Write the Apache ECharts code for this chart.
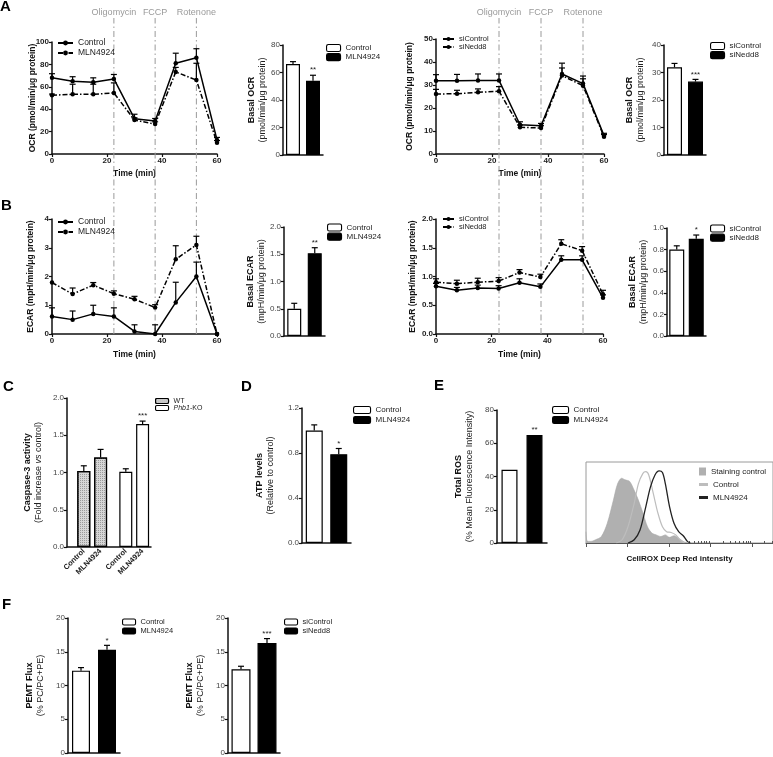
<!DOCTYPE html>
<html><head><meta charset="utf-8">
<script src="https://cdn.jsdelivr.net/npm/echarts@6/dist/echarts.min.js"></script>
<style>html,body{margin:0;padding:0;background:#fff}#c{width:773px;height:757px}</style>
</head><body><div id="c"></div>
<script>
const FONT = "'Liberation Sans', Arial, sans-serif";

// ---------------- DATA ----------------
const timeMin = [0, 7.5, 15, 22.5, 30, 37.5, 45, 52.5, 60];
const injectionTimes = [22.5, 37.5, 52.5];
const injectionNames = ['Oligomycin', 'FCCP', 'Rotenone'];

const ocrControl    = [68, 65, 64, 67, 31.5, 29.5, 81, 86, 12.5];
const ocrControlSem = [3.7, 4, 4, 4, 4, 2.2, 9, 8, 2.3];
const ocrMLN        = [52.5, 53.3, 53.3, 54.5, 30.3, 26.7, 73.3, 66, 10];
const ocrMLNSem     = [1, 9, 9, 9, 2, 2, 4, 15, 2];

const ocrSiControl    = [31.8, 31.8, 32, 32, 12.7, 12.3, 34.8, 30.6, 8];
const ocrSiControlSem = [2.7, 2.8, 2.8, 2.8, 1.3, 1, 4.7, 3.3, 1];
const ocrSiNedd8      = [26.1, 26.2, 26.8, 27.3, 11.6, 11.3, 34.1, 29.7, 7.5];
const ocrSiNedd8Sem   = [2, 1.5, 1.5, 2, 1, 1, 3.3, 3, 1];

const ecarControl    = [0.61, 0.5, 0.7, 0.61, 0.09, 0.0, 1.1, 2.0, 0.0];
const ecarControlSem = [0.3, 0.3, 0.3, 0.3, 0.23, 0.32, 0.7, 0.5, 0];
const ecarMLN        = [1.79, 1.39, 1.7, 1.4, 1.21, 0.92, 2.6, 3.1, 0.0];
const ecarMLNSem     = [0, 0.21, 0.09, 0.1, 0.1, 0.1, 0.47, 0.3, 0];

const ecarSiControl    = [0.83, 0.76, 0.80, 0.79, 0.89, 0.82, 1.29, 1.29, 0.63];
const ecarSiControlSem = [0.05, 0.05, 0.05, 0.05, 0.07, 0.05, 0.07, 0.07, 0.05];
const ecarSiNedd8      = [0.90, 0.875, 0.90, 0.92, 1.07, 0.99, 1.57, 1.45, 0.69];
const ecarSiNedd8Sem   = [0.06, 0.06, 0.07, 0.06, 0.05, 0.05, 0.07, 0.07, 0.07];

const drugGroups = ['Control', 'MLN4924'];
const siGroups = ['siControl', 'siNedd8'];

const basalOcr = [66.2, 54];       const basalOcrSem = [1.7, 4];       const basalOcrStars = ['', '**'];
const basalOcrSi = [31.9, 26.7];   const basalOcrSiSem = [1.4, 0.8];   const basalOcrSiStars = ['', '***'];
const basalEcar = [0.5, 1.52];     const basalEcarSem = [0.1, 0.1];    const basalEcarStars = ['', '**'];
const basalEcarSi = [0.8, 0.9];    const basalEcarSiSem = [0.035, 0.035]; const basalEcarSiStars = ['', '*'];

const caspaseLabels = ['Control', 'MLN4924', 'Control', 'MLN4924'];
const caspasePos = [0, 1, 2.5, 3.5];
const caspaseWT = [1.02, 1.2];     const caspaseWTSem = [0.07, 0.11];
const caspaseKO = [1.01, 1.65];    const caspaseKOSem = [0.04, 0.04]; const caspaseKOStars = ['', '***'];

const atpLevels = [1.0, 0.79];     const atpSem = [0.05, 0.05];        const atpStars = ['', '*'];
const rosLevels = [44, 65];        const rosSem = [0, 0];              const rosStars = ['', '**'];
const pemtFlux = [12.2, 15.3];     const pemtSem = [0.45, 0.65];       const pemtStars = ['', '*'];
const pemtFluxSi = [12.4, 16.3];   const pemtSiSem = [0.45, 0.65];     const pemtSiStars = ['', '***'];

// flow histogram (x in decades of intensity, y relative count)
const stainX = [0, 0.02, 0.06, 0.12, 0.23, 0.37, 0.51, 0.66, 0.76, 0.86, 0.94, 1.05, 1.16, 1.26, 1.37, 1.48, 1.59, 1.69, 1.8, 1.91, 2.01, 2.12, 2.23, 2.34, 2.44];
const stainY = [0.14, 0.03, 0.02, 0.02, 0.04, 0.08, 0.24, 0.53, 0.73, 0.8, 0.78, 0.76, 0.65, 0.53, 0.37, 0.2, 0.12, 0.1, 0.08, 0.1, 0.07, 0.09, 0.06, 0.02, 0];
const ctrlHistX = [0.73, 0.87, 1.01, 1.16, 1.26, 1.37, 1.44, 1.51, 1.62, 1.73, 1.84, 1.94, 2.05, 2.16, 2.26, 2.37];
const ctrlHistY = [0, 0.04, 0.2, 0.49, 0.73, 0.86, 0.88, 0.84, 0.61, 0.37, 0.2, 0.14, 0.13, 0.1, 0.04, 0];
const mlnHistX = [1.01, 1.16, 1.3, 1.44, 1.55, 1.66, 1.76, 1.84, 1.91, 2.01, 2.12, 2.23, 2.34, 2.44, 2.51];
const mlnHistY = [0, 0.04, 0.16, 0.45, 0.69, 0.84, 0.89, 0.87, 0.73, 0.45, 0.24, 0.14, 0.09, 0.02, 0];

// ---------------- BUILD ----------------
const BLACK = '#111';
const grid = [], xAxis = [], yAxis = [], series = [], legend = [], graphic = [];

function cart(g, xas, ya) {
  grid.push(Object.assign({ containLabel: false }, g));
  const gi = grid.length - 1;
  const xs = (Array.isArray(xas) ? xas : [xas]).map(a => { xAxis.push(Object.assign({ gridIndex: gi }, a)); return xAxis.length - 1; });
  yAxis.push(Object.assign({ gridIndex: gi }, ya));
  return { g: gi, x: xs[0], xs, y: yAxis.length - 1 };
}
const RICH = {
  b: { fontFamily: FONT, fontSize: 9, fontWeight: 'bold', color: BLACK, lineHeight: 11 },
  n: { fontFamily: FONT, fontSize: 9, color: '#222', lineHeight: 11 },
  ni: { fontFamily: FONT, fontSize: 9, color: '#222', lineHeight: 11, fontStyle: 'italic' }
};
function valAxis(min, max, interval, o = {}) {
  const ax = {
    type: 'value', min, max, interval,
    axisLine: { show: true, onZero: false, lineStyle: { color: BLACK, width: 1.5 } },
    axisTick: { show: o.tick !== false, length: 3, lineStyle: { color: BLACK, width: 1.2 } },
    splitLine: { show: false },
    axisLabel: { show: o.label !== false, fontFamily: FONT, fontSize: o.fs || 8, color: o.lc || '#222',
      fontWeight: o.bold ? 'bold' : 'normal', margin: 3, formatter: o.fmt },
    name: o.name || '', nameLocation: 'middle', nameGap: o.gap || 20,
    nameTextStyle: { fontFamily: FONT, fontSize: o.nfs || 8.5, fontWeight: o.nbold ? 'bold' : 'normal', color: BLACK, rich: RICH }
  };
  if (o.noMove) ax.nameMoveOverlap = false;
  return ax;
}
function catAxis(data) {
  return { type: 'category', data, axisLine: { show: true, lineStyle: { color: BLACK, width: 1.5 } },
    axisTick: { show: false }, axisLabel: { show: false } };
}
const f1 = v => v.toFixed(1);

function errSeries(c, data, stars, cap) {
  cap = cap || 3;
  return {
    type: 'custom', xAxisIndex: c.x, yAxisIndex: c.y, data, z: 5, silent: true, animation: false,
    renderItem: (params, api) => {
      const x = api.value(0), y = api.value(1), e = api.value(2);
      const p0 = api.coord([x, y]), p1 = api.coord([x, y + e]);
      const st = { stroke: '#000', lineWidth: 1.2 };
      const ch = [];
      if (e > 0) {
        ch.push({ type: 'line', shape: { x1: p0[0], y1: p0[1], x2: p1[0], y2: p1[1] }, style: st });
        ch.push({ type: 'line', shape: { x1: p1[0] - cap, y1: p1[1], x2: p1[0] + cap, y2: p1[1] }, style: st });
      }
      const s = stars ? stars[params.dataIndex] : '';
      if (s) ch.push({ type: 'text', x: p1[0], y: p1[1] - 1, style: { text: s, fontFamily: FONT, fontSize: 8, fill: '#222', align: 'center', verticalAlign: 'bottom' } });
      return { type: 'group', children: ch };
    }
  };
}
function lineSeries(c, name, ys, sems, dashed) {
  series.push({
    name, type: 'line', xAxisIndex: c.x, yAxisIndex: c.y, data: timeMin.map((t, i) => [t, ys[i]]),
    symbol: 'circle', symbolSize: 4.5, itemStyle: { color: '#000' }, color: '#000',
    lineStyle: { color: '#000', width: 1.5, type: dashed ? [5, 2, 1.5, 2] : 'solid' },
    z: 3, animation: false, clip: false
  });
  series.push(errSeries(c, timeMin.map((t, i) => [t, ys[i], sems[i]]), null, 3));
}
function barPair(c, names, values, sems, stars, bw) {
  const colors = ['#fff', '#000'];
  names.forEach((nm, i) => {
    series.push({ name: nm, type: 'bar', xAxisIndex: c.x, yAxisIndex: c.y,
      data: values.map((v, j) => j === i ? v : '-'), barWidth: bw, barGap: '-100%',
      color: colors[i], itemStyle: { color: colors[i], borderColor: '#000', borderWidth: 1.2 }, animation: false, z: 2 });
  });
  series.push(errSeries(c, values.map((v, j) => [j, v, sems[j]]), stars));
}
function addLegend(names, left, top, o = {}) {
  legend.push({
    left, top, orient: 'vertical', padding: 0, itemGap: o.gap != null ? o.gap : 1,
    itemWidth: o.w || 14, itemHeight: o.h || 6, selectedMode: false, data: names,
    icon: o.icon, formatter: o.fmt || (n => n.split('|')[0]),
    textStyle: { fontFamily: FONT, fontSize: o.fs || 8, color: '#222', lineHeight: o.lh || 9, rich: o.rich },
    itemStyle: o.line ? undefined : { borderColor: '#000', borderWidth: 1.1 }
  });
}
function injection(c) {
  series.push({
    type: 'custom', xAxisIndex: c.x, yAxisIndex: c.y, data: injectionTimes.map((t, i) => [t, i]), z: 1, silent: true, animation: false,
    renderItem: (params, api) => {
      const t = api.value(0);
      const pb = api.coord([t, 0]), pt = api.coord([t, 1]);
      return { type: 'group', children: [
        { type: 'line', shape: { x1: pb[0], y1: pb[1], x2: pt[0], y2: pt[1] }, style: { stroke: '#9a9a9a', lineWidth: 1, lineDash: [6, 3, 1.5, 3] } },
        { type: 'text', x: pt[0], y: pt[1] - 1, style: { text: injectionNames[params.dataIndex], fontFamily: FONT, fontSize: 9, fill: '#9a9a9a', align: 'center', verticalAlign: 'bottom' } }
      ] };
    }
  });
}
const hidX = { type: 'value', min: 0, max: 60, show: false };
const hidY = { type: 'value', min: 0, max: 1, show: false };

// --- injection overlays
injection(cart({ left: 52, top: 18, width: 165, height: 316 }, hidX, hidY));
injection(cart({ left: 436, top: 18, width: 168, height: 316 }, hidX, hidY));

// --- A left: OCR time course
const timeAx = (gap) => valAxis(0, 60, 20, { bold: true, name: 'Time (min)', nbold: true, gap });
let c = cart({ left: 52, top: 42, width: 165, height: 112 }, timeAx(15),
  valAxis(0, 100, 20, { bold: true, name: 'OCR (pmol/min/μg protein)', nbold: true, gap: 15, noMove: true }));
lineSeries(c, 'Control|a1', ocrControl, ocrControlSem, false);
lineSeries(c, 'MLN4924|a1', ocrMLN, ocrMLNSem, true);
addLegend(['Control|a1', 'MLN4924|a1'], 57, 38.5, { line: true, w: 15, h: 6, fs: 8.5, lh: 9, gap: 1 });

// --- A: basal OCR
c = cart({ left: 283, top: 45, width: 40, height: 110 }, catAxis(drugGroups),
  valAxis(0, 80, 20, { lc: '#444', name: '{b|Basal OCR}\n{n|(pmol/min/μg protein)}', gap: 14 }));
barPair(c, ['Control|a2', 'MLN4924|a2'], basalOcr, basalOcrSem, basalOcrStars, 14);
addLegend(['Control|a2', 'MLN4924|a2'], 326, 44, { w: 14, h: 7, lh: 8, gap: 1 });

// --- A right: OCR siRNA
c = cart({ left: 436, top: 39, width: 168, height: 115 }, timeAx(15),
  valAxis(0, 50, 10, { bold: true, name: 'OCR (pmol/min/μg protein)', nbold: true, gap: 22 }));
lineSeries(c, 'siControl|a3', ocrSiControl, ocrSiControlSem, false);
lineSeries(c, 'siNedd8|a3', ocrSiNedd8, ocrSiNedd8Sem, true);
addLegend(['siControl|a3', 'siNedd8|a3'], 442, 35, { line: true, w: 11, h: 5, fs: 7.5, lh: 8, gap: 0 });

// --- A: basal OCR siRNA
c = cart({ left: 664, top: 45, width: 42, height: 110 }, catAxis(siGroups),
  valAxis(0, 40, 10, { lc: '#444', name: '{b|Basal OCR}\n{n|(pmol/min/μg protein)}', gap: 18 }));
barPair(c, ['siControl|a4', 'siNedd8|a4'], basalOcrSi, basalOcrSiSem, basalOcrSiStars, 15);
addLegend(['siControl|a4', 'siNedd8|a4'], 710, 42, { w: 14, h: 7, lh: 8, gap: 1 });

// --- B left: ECAR time course
c = cart({ left: 52, top: 219, width: 165, height: 115 }, timeAx(16),
  valAxis(0, 4, 1, { bold: true, name: 'ECAR (mpH/min/μg protein)', nbold: true, gap: 17 }));
lineSeries(c, 'Control|b1', ecarControl, ecarControlSem, false);
lineSeries(c, 'MLN4924|b1', ecarMLN, ecarMLNSem, true);
addLegend(['Control|b1', 'MLN4924|b1'], 57, 217.5, { line: true, w: 15, h: 6, fs: 8.5, lh: 9, gap: 1 });

// --- B: basal ECAR
c = cart({ left: 284, top: 227, width: 41, height: 109 }, catAxis(drugGroups),
  valAxis(0, 2, 0.5, { lc: '#444', fmt: f1, name: '{b|Basal ECAR}\n{n|(mpH/min/μg protein)}', gap: 15 }));
barPair(c, ['Control|b2', 'MLN4924|b2'], basalEcar, basalEcarSem, basalEcarStars, 14);
addLegend(['Control|b2', 'MLN4924|b2'], 327, 223.5, { w: 14, h: 7, lh: 8, gap: 1 });

// --- B right: ECAR siRNA
c = cart({ left: 436, top: 219, width: 167, height: 115 }, timeAx(16),
  valAxis(0, 2, 0.5, { bold: true, fmt: f1, name: 'ECAR (mpH/min/μg protein)', nbold: true, gap: 19 }));
lineSeries(c, 'siControl|b3', ecarSiControl, ecarSiControlSem, false);
lineSeries(c, 'siNedd8|b3', ecarSiNedd8, ecarSiNedd8Sem, true);
addLegend(['siControl|b3', 'siNedd8|b3'], 442, 215, { line: true, w: 11, h: 5, fs: 7.5, lh: 8, gap: 0 });

// --- B: basal ECAR siRNA
c = cart({ left: 667, top: 228, width: 39, height: 108 }, catAxis(siGroups),
  valAxis(0, 1, 0.2, { lc: '#444', fmt: f1, name: '{b|Basal ECAR}\n{n|(mpH/min/μg protein)}', gap: 18 }));
barPair(c, ['siControl|b4', 'siNedd8|b4'], basalEcarSi, basalEcarSiSem, basalEcarSiStars, 15);
addLegend(['siControl|b4', 'siNedd8|b4'], 710, 224.5, { w: 14, h: 7, lh: 8, gap: 1 });

// --- C: caspase-3
const posLabel = {}; caspasePos.forEach((p, i) => posLabel[p] = caspaseLabels[i]);
c = cart({ left: 67, top: 398, width: 84, height: 149 },
  Object.assign(valAxis(-1, 4, 0.5, { tick: false }), {
    axisLabel: { show: true, interval: 0, rotate: 45, fontFamily: FONT, fontSize: 7.5, fontWeight: 'bold', color: '#222', margin: 3,
      formatter: v => posLabel[v] || '' }
  }),
  valAxis(0, 2, 0.5, { lc: '#444', fmt: f1, name: '{b|Caspase-3 activity}\n{n|(Fold increase }{ni|vs}{n| control)}', gap: 23 }));
const wtStyle = { color: '#d6d6d6', borderColor: '#000', borderWidth: 1.2,
  decal: { symbol: 'rect', symbolSize: 1, dashArrayX: [1, 1], dashArrayY: [1, 1], color: '#9a9a9a' } };
series.push({ name: 'WT|c', type: 'bar', xAxisIndex: c.x, yAxisIndex: c.y, barWidth: 13, barGap: '-100%',
  data: caspaseWT.map((v, i) => [caspasePos[i], v]), color: '#d6d6d6', itemStyle: wtStyle, animation: false, z: 2 });
series.push({ name: 'Phb1-KO|c', type: 'bar', xAxisIndex: c.x, yAxisIndex: c.y, barWidth: 13, barGap: '-100%',
  data: caspaseKO.map((v, i) => [caspasePos[i + 2], v]), color: '#fff', itemStyle: { color: '#fff', borderColor: '#000', borderWidth: 1.2 }, animation: false, z: 2 });
series.push(errSeries(c, caspaseWT.map((v, i) => [caspasePos[i], v, caspaseWTSem[i]]), null));
series.push(errSeries(c, caspaseKO.map((v, i) => [caspasePos[i + 2], v, caspaseKOSem[i]]), caspaseKOStars));
addLegend(['WT|c', 'Phb1-KO|c'], 155, 397.5, { w: 13, h: 5, fs: 7, lh: 7, gap: 0,
  fmt: n => n.startsWith('Phb1') ? '{i|Phb1}-KO' : n.split('|')[0],
  rich: { i: { fontFamily: FONT, fontSize: 7, fontStyle: 'italic', color: '#222' } } });

// --- D: ATP
c = cart({ left: 302, top: 408, width: 49, height: 135 }, catAxis(drugGroups),
  valAxis(0, 1.2, 0.4, { lc: '#444', fmt: f1, name: '{b|ATP levels}\n{n|(Relative to control)}', gap: 26 }));
barPair(c, ['Control|d', 'MLN4924|d'], atpLevels, atpSem, atpStars, 17);
addLegend(['Control|d', 'MLN4924|d'], 353, 405.5, { w: 17, h: 7, lh: 9, gap: 1 });

// --- E: ROS
c = cart({ left: 497, top: 410, width: 50, height: 133 }, catAxis(drugGroups),
  valAxis(0, 80, 20, { lc: '#444', name: '{b|Total ROS}\n{n|(% Mean Fluorescence Intensity)}', gap: 22 }));
barPair(c, ['Control|e', 'MLN4924|e'], rosLevels, rosSem, rosStars, 16);
addLegend(['Control|e', 'MLN4924|e'], 552, 405.5, { w: 16, h: 7, lh: 9, gap: 1 });

// --- E: flow histogram
const minorTicks = [];
for (let d = 0; d < 5; d++) for (let k = 2; k <= 9; k++) { const v = d + Math.log10(k); if (v <= 4.5) minorTicks.push(v); }
const histX = (o) => Object.assign({
  type: 'value', min: 0, max: 4.5, interval: 1, splitLine: { show: false }, axisLabel: { show: false },
  axisLine: { show: true, onZero: false, lineStyle: { color: '#555', width: 1 } }
}, o);
c = cart({ left: 586, top: 462, width: 210, height: 81, show: true, borderColor: '#9a9a9a', borderWidth: 1 },
  [histX({ axisTick: { show: true, length: 4, customValues: [0, 1, 2, 3, 4], lineStyle: { color: '#555' } },
      name: 'CellROX Deep Red intensity', nameLocation: 'middle', nameGap: 12,
      nameTextStyle: { fontFamily: FONT, fontSize: 8, fontWeight: 'bold', color: BLACK } }),
   histX({ axisLine: { show: false }, axisTick: { show: true, length: 2, customValues: minorTicks, lineStyle: { color: '#555' } } })],
  { type: 'value', min: 0, max: 1, show: false });
series.push({ name: 'Staining control|h', type: 'line', xAxisIndex: c.x, yAxisIndex: c.y, data: stainX.map((x, i) => [x, stainY[i]]),
  symbol: 'none', color: '#b0b0b0', lineStyle: { color: '#a8a8a8', width: 0.6 }, areaStyle: { color: '#b0b0b0', opacity: 1 }, smooth: 0.3, animation: false, z: 2 });
series.push({ name: 'Control|h', type: 'line', xAxisIndex: c.x, yAxisIndex: c.y, data: ctrlHistX.map((x, i) => [x, ctrlHistY[i]]),
  symbol: 'none', color: '#bdbdbd', lineStyle: { color: '#bdbdbd', width: 1.2 }, smooth: 0.3, animation: false, z: 3 });
series.push({ name: 'MLN4924|h', type: 'line', xAxisIndex: c.x, yAxisIndex: c.y, data: mlnHistX.map((x, i) => [x, mlnHistY[i]]),
  symbol: 'none', color: '#222', lineStyle: { color: '#222', width: 1.3 }, smooth: 0.3, animation: false, z: 4 });
legend.push({ left: 699, top: 467.5, orient: 'vertical', padding: 0, itemWidth: 7, itemHeight: 8, selectedMode: false, icon: 'rect',
  data: ['Staining control|h'], formatter: n => n.split('|')[0], textStyle: { fontFamily: FONT, fontSize: 8, color: '#222' } });
legend.push({ left: 699, top: 479.5, orient: 'vertical', padding: 0, itemGap: 3, itemWidth: 9, itemHeight: 3, selectedMode: false, icon: 'rect',
  data: ['Control|h', 'MLN4924|h'], formatter: n => n.split('|')[0], textStyle: { fontFamily: FONT, fontSize: 8, color: '#222', lineHeight: 10 } });

// --- F: PEMT flux
c = cart({ left: 68, top: 618, width: 52, height: 135 }, catAxis(drugGroups),
  valAxis(0, 20, 5, { lc: '#444', name: '{b|PEMT Flux}\n{n|(% PC/PC+PE)}', gap: 22 }));
barPair(c, ['Control|f1', 'MLN4924|f1'], pemtFlux, pemtSem, pemtStars, 18);
addLegend(['Control|f1', 'MLN4924|f1'], 122, 617.5, { w: 13, h: 6, fs: 7.5, lh: 9, gap: 0 });

c = cart({ left: 228, top: 618, width: 52, height: 135 }, catAxis(siGroups),
  valAxis(0, 20, 5, { lc: '#444', name: '{b|PEMT Flux}\n{n|(% PC/PC+PE)}', gap: 22 }));
barPair(c, ['siControl|f2', 'siNedd8|f2'], pemtFluxSi, pemtSiSem, pemtSiStars, 19);
addLegend(['siControl|f2', 'siNedd8|f2'], 284, 617.5, { w: 13, h: 6, fs: 7.5, lh: 9, gap: 0 });

// --- panel letters
[['A', 0, -1], ['B', 1, 198], ['C', 3, 379], ['D', 241, 379], ['E', 434, 378], ['F', 2, 597]].forEach(([t, x, y]) => {
  graphic.push({ type: 'text', left: x, top: y, style: { text: t, font: "bold 15px 'Liberation Sans', Arial, sans-serif", fill: '#000' } });
});

const chart = echarts.init(document.getElementById('c'), null, { renderer: 'canvas' });
chart.setOption({ animation: false, backgroundColor: '#fff', grid, xAxis, yAxis, series, legend, graphic });
</script></body></html>
